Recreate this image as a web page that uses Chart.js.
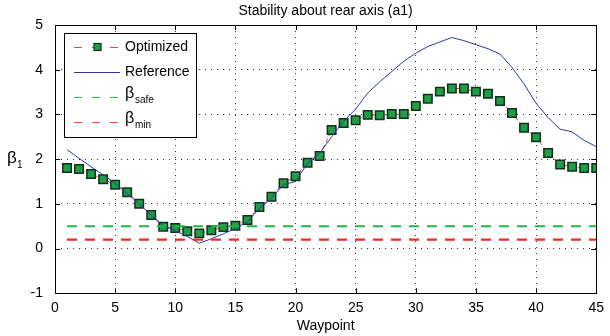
<!DOCTYPE html>
<html>
<head>
<meta charset="utf-8">
<script src="https://cdn.jsdelivr.net/npm/chart.js@4"></script>
<style>
  html, body { margin: 0; padding: 0; background: #fff; }
  #wrap { width: 610px; height: 336px; }
</style>
</head>
<body>
<div id="wrap"><canvas id="stabilityChart" width="610" height="336"></canvas></div>
<script>
// Stability about rear axis - optimized vs reference beta_1 per waypoint

const waypoints = [1, 2, 3, 4, 5, 6, 7, 8, 9, 10, 11, 12, 13, 14, 15, 16, 17, 18, 19, 20, 21, 22, 23,
  24, 25, 26, 27, 28, 29, 30, 31, 32, 33, 34, 35, 36, 37, 38, 39, 40, 41, 42, 43, 44, 45];

const optimized = [1.80, 1.78, 1.67, 1.55, 1.43, 1.26, 1.00, 0.75, 0.49, 0.46, 0.39, 0.34, 0.41, 0.48, 0.51,
  0.64, 0.93, 1.16, 1.46, 1.62, 1.92, 2.07, 2.65, 2.81, 2.87, 2.99, 2.98, 3.01, 3.01, 3.19,
  3.35, 3.51, 3.58, 3.58, 3.51, 3.46, 3.30, 3.03, 2.70, 2.49, 2.14, 1.88, 1.83, 1.80, 1.80];

const reference = [2.21, 2.02, 1.83, 1.65, 1.46, 1.23, 1.00, 0.75, 0.51, 0.40, 0.27, 0.12, 0.22, 0.33, 0.45,
  0.60, 0.90, 1.13, 1.43, 1.50, 1.91, 2.13, 2.50, 2.85, 3.12, 3.48, 3.73, 3.96, 4.19, 4.37,
  4.52, 4.62, 4.72, 4.65, 4.56, 4.47, 4.35, 4.05, 3.68, 3.25, 2.93, 2.67, 2.61, 2.42, 2.28];

const betaSafe = 0.5;
const betaMin = 0.2;

const xTicks = [0, 5, 10, 15, 20, 25, 30, 35, 40, 45];
const yTicks = [-1, 0, 1, 2, 3, 4, 5];

const FONT = "'Liberation Sans', Arial, sans-serif";

function toPoints(xs, ys) {
  return xs.map((x, i) => ({ x: x, y: ys[i] }));
}

const first = waypoints[0];
const last = waypoints[waypoints.length - 1];

// frame, inner ticks, title, labels and legend (MATLAB style)
const matlabFrame = {
  id: 'matlabFrame',
  afterDatasetsDraw(chart) {
    const ctx = chart.ctx;
    const a = chart.chartArea;
    const xs = chart.scales.x;
    const ys = chart.scales.y;
    ctx.save();
    ctx.strokeStyle = '#000';
    ctx.lineWidth = 1;
    ctx.beginPath();
    xTicks.forEach(v => {
      const px = Math.round(xs.getPixelForValue(v)) + 0.5;
      ctx.moveTo(px, a.bottom); ctx.lineTo(px, a.bottom - 5);
      ctx.moveTo(px, a.top); ctx.lineTo(px, a.top + 5);
    });
    yTicks.forEach(v => {
      const py = Math.round(ys.getPixelForValue(v)) + 0.5;
      ctx.moveTo(a.left, py); ctx.lineTo(a.left + 5, py);
      ctx.moveTo(a.right, py); ctx.lineTo(a.right - 5, py);
    });
    ctx.stroke();
    ctx.strokeRect(Math.round(a.left) + 0.5, Math.round(a.top) + 0.5,
      Math.round(a.right - a.left), Math.round(a.bottom - a.top));
    ctx.restore();
  },
  afterDraw(chart) {
    const ctx = chart.ctx;
    const a = chart.chartArea;
    const cx = (a.left + a.right) / 2;
    ctx.save();
    ctx.fillStyle = '#000';
    ctx.textAlign = 'center';
    ctx.textBaseline = 'middle';
    ctx.font = '14px ' + FONT;
    ctx.fillText('Stability about rear axis (a1)', cx, 11);
    ctx.fillText('Waypoint', cx, 326);

    // y axis label beta_1
    ctx.textAlign = 'left';
    ctx.textBaseline = 'alphabetic';
    ctx.font = '17px ' + FONT;
    ctx.fillText('\u03B2', 7, 163);
    ctx.font = '10px ' + FONT;
    ctx.fillText('1', 17, 168);

    // legend box
    const bx = 64.5, by = 33.5, bw = 132, bh = 104;
    ctx.fillStyle = '#fff';
    ctx.fillRect(bx, by, bw, bh);
    ctx.strokeStyle = '#000';
    ctx.lineWidth = 1;
    ctx.strokeRect(bx, by, bw, bh);

    const x0 = 74, x1 = 120, tx = 125;
    const rows = [47, 72, 97, 122];

    // Optimized
    ctx.strokeStyle = '#f04040';
    ctx.setLineDash([8, 10]);
    ctx.beginPath(); ctx.moveTo(x0, rows[0] + 0.5); ctx.lineTo(x1, rows[0] + 0.5); ctx.stroke();
    ctx.setLineDash([]);
    ctx.fillStyle = '#1f9e46';
    ctx.fillRect(94, rows[0] - 3.5, 7, 7);
    ctx.strokeStyle = '#10301a';
    ctx.lineWidth = 1.2;
    ctx.strokeRect(94, rows[0] - 3.5, 7, 7);

    // Reference
    ctx.lineWidth = 1;
    ctx.strokeStyle = '#2a3aa0';
    ctx.beginPath(); ctx.moveTo(x0, rows[1] + 0.5); ctx.lineTo(x1, rows[1] + 0.5); ctx.stroke();

    // beta safe / beta min
    ctx.setLineDash([8, 10]);
    ctx.strokeStyle = '#22c04a';
    ctx.beginPath(); ctx.moveTo(x0, rows[2] + 0.5); ctx.lineTo(x1, rows[2] + 0.5); ctx.stroke();
    ctx.strokeStyle = '#f04848';
    ctx.beginPath(); ctx.moveTo(x0, rows[3] + 0.5); ctx.lineTo(x1, rows[3] + 0.5); ctx.stroke();
    ctx.setLineDash([]);

    ctx.fillStyle = '#000';
    ctx.font = '14px ' + FONT;
    ctx.textBaseline = 'middle';
    ctx.fillText('Optimized', tx, rows[0]);
    ctx.fillText('Reference', tx, rows[1]);
    ctx.textBaseline = 'alphabetic';
    ctx.font = '16px ' + FONT;
    ctx.fillText('\u03B2', tx, rows[2] + 1);
    ctx.fillText('\u03B2', tx, rows[3] + 1);
    ctx.font = '10px ' + FONT;
    ctx.fillText('safe', tx + 10, rows[2] + 6);
    ctx.fillText('min', tx + 10, rows[3] + 6);
    ctx.restore();
  }
};

const ctx = document.getElementById('stabilityChart').getContext('2d');
const stabilityChart = new Chart(ctx, {
  type: 'line',
  data: {
    datasets: [
      {
        label: 'Optimized',
        data: toPoints(waypoints, optimized),
        borderColor: '#f03c3c',
        borderWidth: 1,
        borderDash: [4, 3],
        pointStyle: 'rect',
        pointRadius: 6,
        pointBackgroundColor: '#1f9e46',
        pointBorderColor: '#10301a',
        pointBorderWidth: 1.5,
        tension: 0,
        order: 4
      },
      {
        label: 'Reference',
        data: toPoints(waypoints, reference),
        borderColor: '#2a3aa0',
        borderWidth: 1,
        pointRadius: 0,
        tension: 0,
        order: 3
      },
      {
        label: 'β safe',
        data: toPoints([first, last], [betaSafe, betaSafe]),
        borderColor: '#1fb848',
        borderWidth: 2.2,
        borderDash: [10, 8],
        pointRadius: 0,
        order: 2
      },
      {
        label: 'β min',
        data: toPoints([first, last], [betaMin, betaMin]),
        borderColor: '#ee2a2a',
        borderWidth: 2.2,
        borderDash: [10, 8],
        pointRadius: 0,
        order: 1
      }
    ]
  },
  options: {
    responsive: false,
    animation: false,
    events: [],
    layout: { padding: { left: 0, right: 9, top: 25, bottom: 0 } },
    plugins: {
      legend: { display: false },
      title: { display: false },
      tooltip: { enabled: false }
    },
    scales: {
      x: {
        type: 'linear',
        min: 0,
        max: 45,
        afterBuildTicks: (scale) => { scale.ticks = xTicks.map(v => ({ value: v })); },
        afterFit: (scale) => { scale.height = 42.7; },
        border: { display: false, dash: [1, 5] },
        grid: {
          color: '#333',
          lineWidth: 1,
          drawTicks: false
        },
        ticks: {
          color: '#000',
          font: { family: FONT, size: 14 },
          padding: 6,
          maxRotation: 0
        }
      },
      y: {
        min: -1,
        max: 5,
        afterBuildTicks: (scale) => { scale.ticks = yTicks.map(v => ({ value: v })); },
        afterFit: (scale) => { scale.width = 55; },
        border: { display: false, dash: [1, 5] },
        grid: {
          color: '#333',
          lineWidth: 1,
          drawTicks: false
        },
        ticks: {
          color: '#000',
          font: { family: FONT, size: 14 },
          padding: 12
        }
      }
    }
  },
  plugins: [matlabFrame]
});
</script>
</body>
</html>
